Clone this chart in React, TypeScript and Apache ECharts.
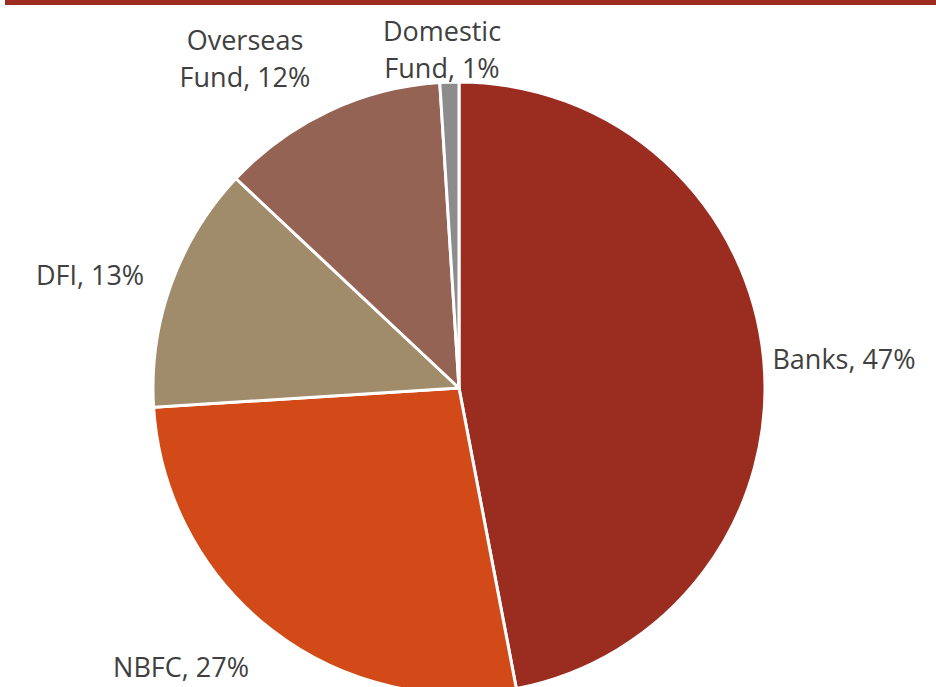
import React, { useEffect, useRef } from "react";
import * as echarts from "echarts";

const categories = ["Banks", "NBFC", "DFI", "Overseas Fund", "Domestic Fund"];
const shares = [47, 27, 13, 12, 1];
const colors = ["#9B2C20", "#D24A17", "#A08B6A", "#956353", "#8C8C8C"];
// label centers (layout only)
const labelPos: [number, number][] = [
  [844, 358],
  [181, 666],
  [90, 274],
  [245, 58],
  [442, 49],
];

export default function App() {
  const ref = useRef<HTMLDivElement>(null);
  useEffect(() => {
    document.body.style.margin = "0";
    const chart = echarts.init(ref.current!, null, { renderer: "svg" });
    chart.setOption({
      animation: false,
      backgroundColor: "#ffffff",
      graphic: [
        {
          type: "rect",
          shape: { x: 5, y: 0, width: 931, height: 5 },
          style: { fill: "#9C2B20" },
          silent: true,
        },
      ],
      series: [
        {
          type: "pie",
          center: [459, 388],
          radius: 306,
          startAngle: 90,
          clockwise: true,
          avoidLabelOverlap: false,
          itemStyle: { borderColor: "#ffffff", borderWidth: 3 },
          label: {
            show: true,
            position: "outside",
            fontFamily: "Open Sans",
            fontSize: 27,
            lineHeight: 37,
            color: "#404040",
            align: "center",
            formatter: (p: any) => p.name.replace(" ", "\n") + ", " + p.value + "%",
          },
          labelLine: { show: false },
          labelLayout: (params: any) => {
            const pos = labelPos[params.dataIndex];
            return { x: pos[0], y: pos[1], align: "center", verticalAlign: "middle" };
          },
          emphasis: { disabled: true },
          data: categories.map((c, i) => ({
            name: c,
            value: shares[i],
            itemStyle: { color: colors[i] },
          })),
        },
      ],
    });
    return () => chart.dispose();
  }, []);
  return (
    <div
      ref={ref}
      style={{ position: "fixed", left: 0, top: 0, width: 936, height: 687 }}
    />
  );
}
